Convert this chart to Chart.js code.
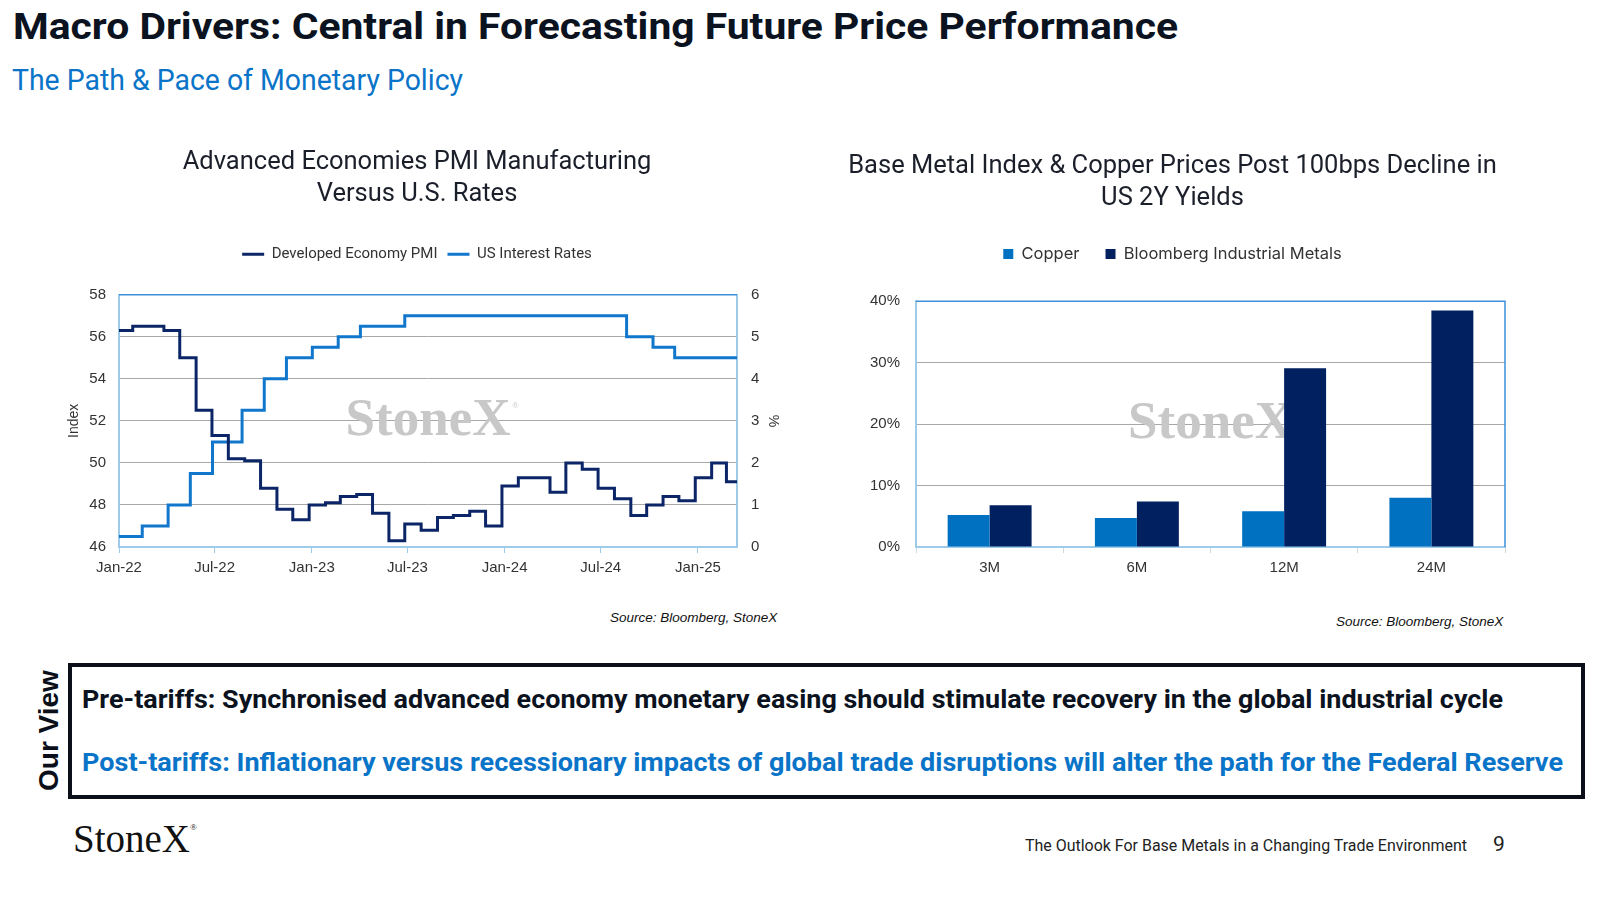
<!DOCTYPE html>
<html>
<head>
<meta charset="utf-8">
<script src="https://cdn.jsdelivr.net/npm/chart.js@4.4.1/dist/chart.umd.min.js"></script>
<style>
  body { margin: 0; width: 1600px; height: 900px; background: #fff; position: relative; overflow: hidden; font-family: Roboto, sans-serif; }
  .t { position: absolute; white-space: nowrap; line-height: 1; transform-origin: left top; }
  .box { position: absolute; left: 68px; top: 663px; width: 1517px; height: 136px; border: 4px solid #0b0f19; box-sizing: border-box; }
  .src { font-family: "Liberation Sans", Arial, sans-serif; font-style: italic; font-size: 13.5px; color: #111; }
</style>
</head>
<body>
<div class="t" data-w="1165" style="left:13px;top:8px;font-size:37px;font-weight:700;color:#0b1220;">Macro Drivers: Central in Forecasting Future Price Performance</div>
<div class="t" data-w="451" style="left:12px;top:66px;font-size:29px;color:#0a74c8;">The Path &amp; Pace of Monetary Policy</div>

<div style="position:absolute;left:22px;top:130px;width:790px;height:470px;"><canvas id="pmiChart"></canvas></div>
<div style="position:absolute;left:840px;top:130px;width:740px;height:470px;"><canvas id="metalsChart"></canvas></div>

<div class="t src" style="left:610px;top:611px;">Source: Bloomberg, StoneX</div>
<div class="t src" style="left:1336px;top:615px;">Source: Bloomberg, StoneX</div>

<div class="t" style="left:35px;top:791px;font-family:'Liberation Sans',Arial,sans-serif;font-weight:700;font-size:28px;color:#0b0f19;transform:rotate(-90deg);">Our View</div>
<div class="box"></div>
<div class="t" data-w="1421" style="left:82px;top:686px;font-size:26.5px;font-weight:700;color:#0b1220;">Pre-tariffs: Synchronised advanced economy monetary easing should stimulate recovery in the global industrial cycle</div>
<div class="t" data-w="1481" style="left:82px;top:749px;font-size:26.5px;font-weight:700;color:#0a74c8;">Post-tariffs: Inflationary versus recessionary impacts of global trade disruptions will alter the path for the Federal Reserve</div>

<div class="t" style="left:73px;top:819px;font-family:'Liberation Serif',serif;font-size:39px;color:#111;">StoneX<span style="font-size:9px;vertical-align:top;position:relative;top:4px;">®</span></div>
<div class="t" data-w="442" style="left:1025px;top:837px;font-size:17px;color:#222;">The Outlook For Base Metals in a Changing Trade Environment</div>
<div class="t" style="left:1493px;top:834px;font-size:21px;color:#222;">9</div>

<script>
// Left chart: monthly PMI and Fed upper bound
const MONTH_NAMES = ['Jan', 'Feb', 'Mar', 'Apr', 'May', 'Jun', 'Jul', 'Aug', 'Sep', 'Oct', 'Nov', 'Dec'];

const pmiMonths = [
  'Jan-22', 'Feb-22', 'Mar-22', 'Apr-22', 'May-22', 'Jun-22', 'Jul-22', 'Aug-22', 'Sep-22', 'Oct-22', 'Nov-22', 'Dec-22',
  'Jan-23', 'Feb-23', 'Mar-23', 'Apr-23', 'May-23', 'Jun-23', 'Jul-23', 'Aug-23', 'Sep-23', 'Oct-23', 'Nov-23', 'Dec-23',
  'Jan-24', 'Feb-24', 'Mar-24', 'Apr-24', 'May-24', 'Jun-24', 'Jul-24', 'Aug-24', 'Sep-24', 'Oct-24', 'Nov-24', 'Dec-24',
  'Jan-25', 'Feb-25', 'Mar-25'
];
const pmiValues = [
  56.3, 56.5, 56.5, 56.3, 55.0, 52.5, 51.3, 50.2, 50.1, 48.8, 47.8, 47.3,
  48.0, 48.1, 48.4, 48.5, 47.6, 46.3, 47.1, 46.8, 47.4, 47.5, 47.7, 47.0,
  48.9, 49.3, 49.3, 48.6, 50.0, 49.7, 48.8, 48.3, 47.5, 48.0, 48.4, 48.2,
  49.3, 50.0, 49.1
];

const rateDates = [
  '2022-01-31', '2022-03-16', '2022-05-04', '2022-06-15', '2022-07-27', '2022-09-21', '2022-11-02',
  '2022-12-14', '2023-02-01', '2023-03-22', '2023-05-03', '2023-07-26', '2024-09-18', '2024-11-07', '2024-12-18'
];
const rateValues = [0.25, 0.5, 1.0, 1.75, 2.5, 3.25, 4.0, 4.5, 4.75, 5.0, 5.25, 5.5, 5.0, 4.75, 4.5];

const dateTickLabels = ['Jan-22', 'Jul-22', 'Jan-23', 'Jul-23', 'Jan-24', 'Jul-24', 'Jan-25'];
const chartEndDate = '2025-04-15';

// Right chart: returns after a 100bps fall in US 2Y yields
const horizons = ['3M', '6M', '12M', '24M'];
const copperReturns = [5.2, 4.7, 5.8, 8.0];
const bimReturns = [6.8, 7.4, 29.1, 38.5];

function parseMonth(label) {
  const [mn, yy] = label.split('-');
  return { year: 2000 + Number(yy), month: MONTH_NAMES.indexOf(mn) };
}

const pmiX = pmiMonths.map(l => { const p = parseMonth(l); return Date.UTC(p.year, p.month, 26); });
const tickX = dateTickLabels.map(l => { const p = parseMonth(l); return Date.UTC(p.year, p.month + 1, 0); });
const xMin = tickX[0];
const xMax = Date.parse(chartEndDate);

const pmiPoints = pmiValues.map((v, i) => ({ x: pmiX[i], y: v }));
pmiPoints.push({ x: xMax, y: pmiValues[pmiValues.length - 1] });
const ratePoints = rateValues.map((v, i) => ({ x: Date.parse(rateDates[i]), y: v }));
ratePoints.push({ x: xMax, y: rateValues[rateValues.length - 1] });

const TICK_FONT = { family: '"Liberation Sans", Arial, sans-serif', size: 15 };
const GRID = '#a8a8a8';
const AXIS_LIGHT = '#9fcbea';
const AXIS_BLUE = '#3d8fd9';

// extra space under the legend
const legendGap = {
  id: 'legendGap',
  beforeInit(chart, args, opts) {
    const fit = chart.legend.fit;
    chart.legend.fit = function () {
      fit.call(this);
      this.height += opts.gap || 0;
    };
  }
};

// watermark + top/right frame of the plot area
const frameAndMark = {
  id: 'frameAndMark',
  beforeDatasetsDraw(chart, args, opts) {
    const { ctx, chartArea: a } = chart;
    ctx.save();
    ctx.fillStyle = '#c8c8c8';
    ctx.font = 'bold 53px "Liberation Serif", serif';
    ctx.textAlign = 'center';
    ctx.textBaseline = 'middle';
    const cx = (a.left + a.right) / 2, cy = (a.top + a.bottom) / 2;
    ctx.fillText('StoneX', cx, cy);
    const w = ctx.measureText('StoneX').width;
    ctx.font = '9px "Liberation Serif", serif';
    ctx.fillText('®', cx + w / 2 + 5, cy - 15);
    ctx.strokeStyle = AXIS_BLUE;
    ctx.lineWidth = 1.5;
    ctx.beginPath();
    ctx.moveTo(a.left, a.top);
    ctx.lineTo(a.right, a.top);
    if (opts.right) ctx.lineTo(a.right, a.bottom);
    ctx.stroke();
    ctx.restore();
  }
};

new Chart(document.getElementById('pmiChart'), {
  type: 'line',
  data: {
    datasets: [{
      label: 'Developed Economy PMI',
      data: pmiPoints,
      yAxisID: 'y',
      borderColor: '#0b2566',
      backgroundColor: '#0b2566',
      borderWidth: 3,
      pointRadius: 0,
      stepped: true
    }, {
      label: 'US Interest Rates',
      data: ratePoints,
      yAxisID: 'y1',
      borderColor: '#1177cc',
      backgroundColor: '#1177cc',
      borderWidth: 3,
      pointRadius: 0,
      stepped: true
    }]
  },
  options: {
    responsive: true,
    maintainAspectRatio: false,
    animation: false,
    layout: { padding: { top: 17 } },
    plugins: {
      title: {
        display: true,
        text: ['Advanced Economies PMI Manufacturing', 'Versus U.S. Rates'],
        color: '#1b1f2a',
        font: { family: 'Roboto', size: 25.5, weight: 'normal', lineHeight: 1.25 },
        padding: { top: 0, bottom: 26 }
      },
      legend: {
        labels: {
          usePointStyle: true,
          pointStyle: 'line',
          pointStyleWidth: 22,
          color: '#333',
          font: { family: 'Roboto', size: 15 },
          padding: 10
        }
      },
      legendGap: { gap: 23 },
      tooltip: { enabled: false },
      frameAndMark: { right: false }
    },
    scales: {
      x: {
        type: 'linear',
        min: xMin,
        max: xMax,
        afterBuildTicks: s => { s.ticks = tickX.map(v => ({ value: v })); },
        afterFit: s => { s.height = 53; },
        ticks: { callback: (v, i) => dateTickLabels[i], font: TICK_FONT, color: '#333', maxRotation: 0, autoSkip: false, padding: 6 },
        grid: { drawOnChartArea: false, color: AXIS_LIGHT, tickLength: 6 },
        border: { color: AXIS_LIGHT, width: 2 }
      },
      y: {
        min: 46,
        max: 58,
        afterFit: s => { s.width = 97; },
        ticks: { stepSize: 2, font: TICK_FONT, color: '#333', padding: 13 },
        grid: { color: GRID, drawTicks: false },
        border: { color: AXIS_LIGHT, width: 2 },
        title: { display: true, text: 'Index', font: { family: '"Liberation Sans", Arial, sans-serif', size: 14 }, color: '#333', padding: { top: 44, bottom: 0 } }
      },
      y1: {
        position: 'right',
        min: 0,
        max: 6,
        afterFit: s => { s.width = 75; },
        ticks: { stepSize: 1, font: TICK_FONT, color: '#333', padding: 14 },
        grid: { drawOnChartArea: false, drawTicks: false },
        border: { color: AXIS_LIGHT, width: 2 },
        title: { display: true, text: '%', font: { family: '"Liberation Sans", Arial, sans-serif', size: 14 }, color: '#333', padding: { top: 31, bottom: 0 } }
      }
    }
  },
  plugins: [legendGap, frameAndMark]
});

new Chart(document.getElementById('metalsChart'), {
  type: 'bar',
  data: {
    labels: horizons,
    datasets: [{
      label: 'Copper',
      data: copperReturns,
      backgroundColor: '#0070c0',
      categoryPercentage: 0.57,
      barPercentage: 1.0
    }, {
      label: 'Bloomberg Industrial Metals',
      data: bimReturns,
      backgroundColor: '#002060',
      categoryPercentage: 0.57,
      barPercentage: 1.0
    }]
  },
  options: {
    responsive: true,
    maintainAspectRatio: false,
    animation: false,
    layout: { padding: { top: 21, right: 75 } },
    plugins: {
      title: {
        display: true,
        text: ['Base Metal Index & Copper Prices Post 100bps Decline in', 'US 2Y Yields'],
        color: '#1b1f2a',
        font: { family: 'Roboto', size: 25.5, weight: 'normal', lineHeight: 1.25 },
        padding: { top: 0, bottom: 5 }
      },
      legend: {
        labels: {
          boxWidth: 10,
          boxHeight: 10,
          color: '#333',
          font: { family: 'Inter', size: 16.5 },
          padding: 26
        }
      },
      legendGap: { gap: 29 },
      tooltip: { enabled: false },
      frameAndMark: { right: true }
    },
    scales: {
      x: {
        afterFit: s => { s.height = 53; },
        ticks: { font: TICK_FONT, color: '#333', padding: 6 },
        grid: { drawOnChartArea: false, color: '#d0d8e0', tickLength: 6 },
        border: { color: AXIS_LIGHT, width: 2 }
      },
      y: {
        min: 0,
        max: 40,
        afterFit: s => { s.width = 76; },
        ticks: { stepSize: 10, font: TICK_FONT, color: '#333', padding: 16, callback: v => v + '%' },
        grid: { color: GRID, drawTicks: false },
        border: { color: AXIS_LIGHT, width: 2 }
      }
    }
  },
  plugins: [legendGap, frameAndMark]
});

document.fonts.ready.then(() => {
  document.querySelectorAll('[data-w]').forEach(el => {
    const w = el.getBoundingClientRect().width;
    el.style.transform = 'scaleX(' + (Number(el.dataset.w) / w) + ')';
  });
});
</script>
</body>
</html>
